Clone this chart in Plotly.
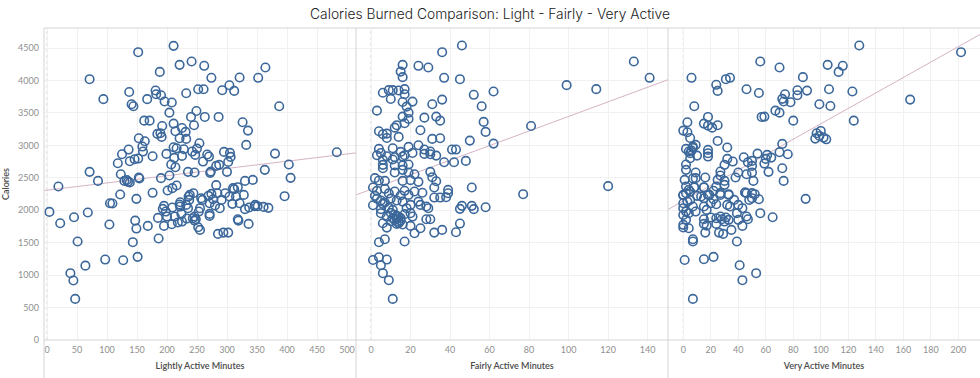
import plotly.graph_objects as go

# ---------------- data ----------------
light_minutes = [19,71,94,152,211,241,221,262,188,274,321,352,364,181,182,190,137,252,261,292,304,312,167,196,208,232,141,144,204,249,162,171,211,192,225,240,263,286,245,326,335,387,184,189,191,231,214,221,232,153,163,159,160,136,125,118,176,199,211,216,228,254,250,242,247,225,212,207,214,267,270,260,295,305,306,302,282,287,300,273,272,332,380,403,406,363,330,343,483,138,146,152,123,133,135,129,138,153,154,85,71,190,204,235,246,282,201,209,216,176,122,149,
                 4,22,45,68,51,39,44,47,64,97,127,151,143,104,105,109,186,185,168,147,149,195,193,198,200,195,208,209,213,222,221,222,224,225,218,233,237,236,238,244,232,235,243,246,248,246,253,255,252,255,257,259,269,271,271,271,274,277,280,284,288,291,285,294,302,297,304,309,310,312,315,318,321,318,319,328,330,336,337,346,347,351,361,369,396]
light_calories = [2367,4021,3713,4437,4535,4293,4242,4227,4133,4042,4047,4042,4201,3847,3788,3773,3824,3865,3865,3850,3927,3840,3713,3677,3662,3804,3635,3603,3505,3531,3382,3382,3336,3300,3269,3439,3439,3439,3310,3357,3228,3603,3177,3187,3131,3208,3218,3110,3100,3110,3064,2982,2905,2936,2864,2725,2833,2869,2972,2956,2941,3033,2951,2905,2854,2838,2807,2705,2664,2859,2828,2751,2900,2885,2823,2746,2684,2700,2592,2597,2577,3008,2874,2705,2500,2623,2453,2468,2895,2756,2787,2797,2556,2464,2438,2453,2428,2505,2490,2453,2592,2495,2536,2592,2582,2387,2305,2341,2382,2269,2243,2176,
                  1975,1800,1893,1965,1518,1030,917,634,1146,1240,1229,1282,1508,1780,2109,2104,1564,1882,1759,1841,1718,2068,2022,1980,1903,1759,1785,2042,1903,2124,2088,2057,1944,1826,1811,1872,2160,2212,2237,2263,2083,2032,1877,1903,1862,1841,1980,2032,1738,1697,2186,2160,2222,2109,1944,1913,2253,2170,2073,2263,2032,2160,1636,1656,1656,2263,2212,2099,2341,2325,2212,2356,2109,1862,1841,2237,2017,1790,2042,2063,2083,2063,2052,2037,2217]

fairly_minutes = [46,36,16,24,29,15,16,37,45,133,141,99,114,62,52,6,9,11,14,17,17,10,16,21,18,19,36,31,56,3,16,19,27,33,35,17,13,12,57,58,81,25,4,6,8,8,14,31,35,50,62,19,24,11,4,5,3,8,12,15,16,17,21,27,27,30,30,33,41,43,37,42,48,6,6,6,11,12,12,16,16,19,19,22,30,31,33,2,4,7,1,16,20,24,32,39,51,77,120,
                  2,5,6,1,5,8,5,11,15,16,19,20,18,20,21,11,13,15,13,6,8,20,22,25,24,25,28,29,28,30,32,36,32,35,38,39,45,46,51,52,58,45,43,4,7,17,1,4,8,5,6,9,11,
                  12,13,14,15,14,12,10,9,7,3,10,13,9,12,17,22,26,3,7,14,16,10,17]
fairly_calories = [4540,4437,4242,4227,4201,4138,4052,4042,4021,4293,4042,3929,3867,3831,3780,3811,3852,3852,3847,3867,3788,3716,3670,3675,3598,3506,3706,3634,3603,3536,3444,3408,3428,3444,3382,3341,3310,3274,3362,3208,3300,3233,3218,3172,3182,3115,3131,3100,3110,3074,3028,2977,3002,2956,2946,2884,2848,2833,2818,2900,2828,2848,2884,2936,2869,2905,2864,2843,2936,2936,2741,2741,2761,2777,2700,2648,2782,2690,2582,2690,2623,2705,2582,2556,2592,2510,2448,2495,2459,2453,2351,2453,2464,2438,2351,2315,2351,2248,2372,
                   2222,2150,2099,2078,1955,1903,2017,2006,2227,2134,2237,2083,2032,1955,1903,1877,1913,1841,1790,1800,1733,1759,1646,1723,2134,2083,2058,2032,1862,1862,1656,1697,2196,2196,2201,2263,2022,2068,2068,2017,2047,1795,1661,1507,1553,1518,1234,1276,1240,1153,1030,922,634,
                   1850,1870,1820,1880,1900,1930,1960,2040,2120,2180,2180,2150,2260,2290,2300,2290,2270,2300,2330,1800,1780,1830,1940]

very_minutes = [128,202,56,70,105,116,113,6,31,34,87,24,25,46,55,74,83,90,83,106,123,72,73,78,165,8,99,107,67,70,57,59,80,124,3,18,15,18,21,25,0,3,5,96,99,100,102,104,97,25,9,7,2,4,5,6,7,18,18,18,10,5,2,2,32,32,30,36,72,70,76,54,61,64,60,59,44,47,50,50,72,62,73,27,27,40,46,50,38,51,9,1,7,9,16,25,30,24,15,8,22,2,4,0,10,19,27,33,45,50,89,
                0,2,5,8,15,0,3,5,7,0,2,4,9,0,2,0,0,4,7,7,13,15,18,22,20,24,15,17,15,15,17,16,20,24,27,28,31,33,30,24,26,29,35,27,30,33,32,34,37,40,43,39,40,45,46,50,52,55,48,46,47,43,56,65,39,1,15,22,41,53,43,7]
very_calories = [4540,4437,4293,4201,4242,4227,4133,4042,4021,4042,4052,3934,3840,3865,3808,3788,3850,3845,3773,3865,3831,3718,3677,3666,3706,3603,3634,3608,3536,3505,3439,3444,3382,3382,3357,3439,3336,3305,3274,3310,3228,3203,3115,3105,3146,3223,3120,3094,3187,3069,3008,2982,2946,2905,2879,2920,2962,2931,2879,2828,2843,2802,2705,2623,2967,2792,2700,2751,3023,2895,2864,2874,2854,2812,2792,2720,2818,2741,2761,2684,2648,2592,2453,2597,2536,2582,2556,2582,2505,2453,2582,2469,2490,2495,2505,2469,2453,2367,2351,2351,2300,2367,2315,2238,2222,2238,2264,2248,2274,2264,2176,
                 2227,2263,2289,2356,2356,2109,2134,2160,2058,2032,1980,1955,1980,1929,1852,1775,1734,1723,1553,1518,2212,2186,2237,2170,2109,2093,2058,2006,1862,1790,1764,1656,1888,1877,1903,1862,1888,1852,1826,1790,1656,1636,1697,2237,2392,2237,2083,2058,2160,2083,2032,1955,1852,2274,2263,2186,2248,2170,2160,1903,1862,1759,1955,1893,1518,1234,1245,1281,1153,1030,922,634]

# trend lines (intercept, slope) per panel
trend_intercepts = [2310, 2322, 2144]
trend_slopes = [1.116, 11.25, 11.89]

x_titles = ["Lightly Active Minutes", "Fairly Active Minutes", "Very Active Minutes"]
x_ranges = [[-5, 515], [-7.6, 150.3], [-11.1, 215.8]]
x_dticks = [50, 20, 20]
x_tick_max = [500, 140, 200]
y_range = [0, 4810]
y_dtick = 500

# ---------------- figure ----------------
POINT = "#3b679a"
TREND = "#d5b3c6"
GRID = "#f1f1f1"
BORDER = "#d4d4d4"
TICKC = "#8f8f8f"
TITLEC = "#4a4a4a"
FONT = "Lato"

series = [(light_minutes, light_calories), (fairly_minutes, fairly_calories), (very_minutes, very_calories)]
axes = ["x", "x2", "x3"]

fig = go.Figure()
for i, (xs, ys) in enumerate(series):
    lo, hi = x_ranges[i]
    fig.add_trace(go.Scatter(
        x=[lo, hi], y=[trend_intercepts[i] + trend_slopes[i] * lo, trend_intercepts[i] + trend_slopes[i] * hi],
        mode="lines", line=dict(color=TREND, width=1), xaxis=axes[i], yaxis="y",
        hoverinfo="skip", showlegend=False))
    fig.add_trace(go.Scatter(
        x=xs, y=ys, mode="markers", xaxis=axes[i], yaxis="y",
        marker=dict(symbol="circle-open", size=8.5, color=POINT, line=dict(width=1.6, color=POINT)),
        showlegend=False))

domains = [[0, 1/3], [1/3, 2/3], [2/3, 1]]
layout = dict(
    width=980, height=378,
    margin=dict(l=44, r=0, t=28, b=38, autoexpand=False),
    paper_bgcolor="white", plot_bgcolor="white",
    font=dict(family=FONT, color=TICKC, size=9),
    title=dict(text="Calories Burned Comparison: Light - Fairly - Very Active",
               x=0.5, xref="container", xanchor="center", y=1 - 14/378, yanchor="middle",
               font=dict(family="Inter", size=13.8, color="#222222", weight=300)),
    yaxis=dict(range=y_range, dtick=y_dtick, tick0=0, showgrid=True, gridcolor=GRID, gridwidth=1,
               zeroline=False, showline=False, ticks="", ticklabelstandoff=4, automargin=False,
               tickfont=dict(size=9, color=TICKC, family=FONT),
               title=dict(text="Calories", font=dict(size=9, color=TITLEC, family=FONT, weight=600), standoff=8),
               anchor="x"),
)
for i in range(3):
    key = "xaxis" if i == 0 else f"xaxis{i+1}"
    layout[key] = dict(
        domain=domains[i], range=x_ranges[i], anchor="y", automargin=False,
        tickmode="array",
        tickvals=list(range(0, x_tick_max[i] + 1, x_dticks[i])),
        showgrid=True, gridcolor=GRID, gridwidth=1, zeroline=False,
        showline=False, ticks="", ticklabelstandoff=3,
        tickfont=dict(size=9, color=TICKC, family=FONT),
        title=dict(text=x_titles[i], font=dict(size=9, color=TITLEC, family=FONT, weight=600), standoff=8),
    )
fig.update_layout(**layout)

shapes = []
# dotted zero lines
for i in range(3):
    shapes.append(dict(type="line", xref=axes[i], yref="paper", x0=0, x1=0, y0=0, y1=1,
                       line=dict(color="#d0d0d0", width=1, dash="dot"), layer="below"))
# frame: top border, bottom axis line, panel separators
shapes.append(dict(type="line", xref="paper", yref="paper", x0=0, x1=1, y0=1, y1=1,
                   line=dict(color=BORDER, width=1)))
shapes.append(dict(type="line", xref="paper", yref="paper", x0=0, x1=1, y0=0, y1=0,
                   line=dict(color=BORDER, width=1)))
for d in domains:
    shapes.append(dict(type="line", xref="paper", yref="paper", x0=d[0], x1=d[0], y0=-38/312, y1=1,
                       line=dict(color=BORDER, width=1)))
fig.update_layout(shapes=shapes)

fig.write_html("out.html", config={"displayModeBar": False},
               post_script="document.body.style.margin='0';document.body.style.overflow='hidden';")
